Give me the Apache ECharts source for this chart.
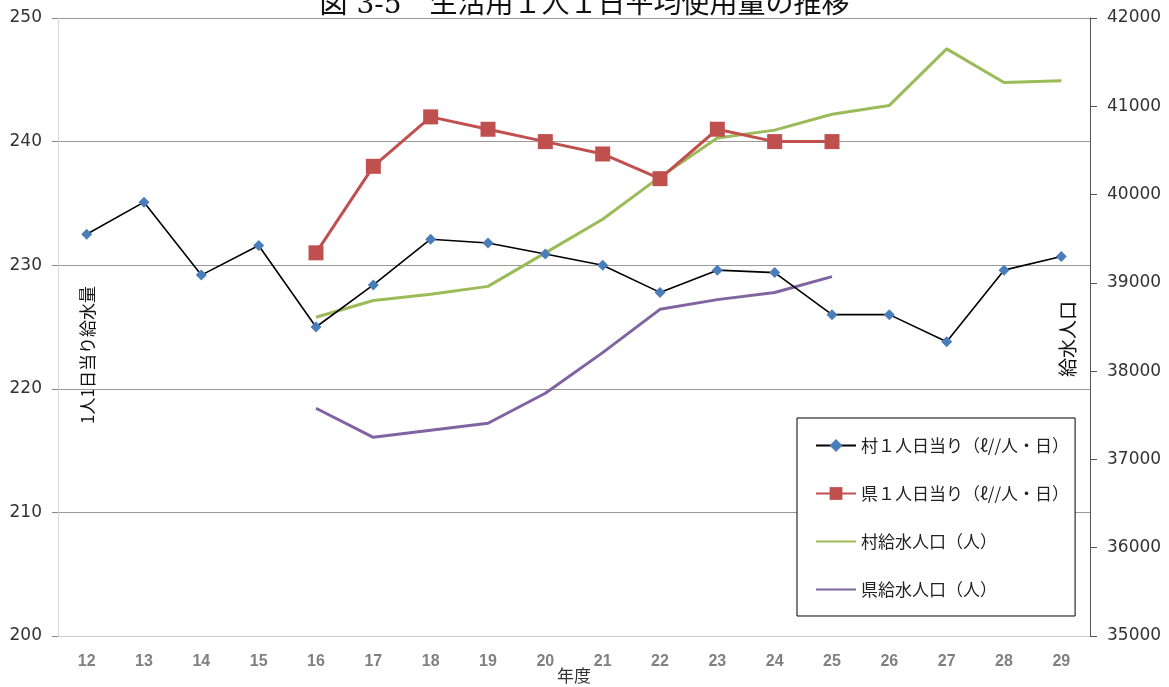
<!DOCTYPE html>
<html>
<head>
<meta charset="utf-8">
<script src="https://cdn.jsdelivr.net/npm/echarts@6/dist/echarts.min.js"></script>
<style>
  html, body { margin: 0; padding: 0; background: #fff; }
  #chart { width: 1169px; height: 687px; }
</style>
</head>
<body>
<div id="chart"></div>
<script>
// 年度 (平成)
const years = ['12','13','14','15','16','17','18','19','20','21','22','23','24','25','26','27','28','29'];

// 村 1人1日当り給水量 (ℓ/人・日)
const villagePerCapita = [232.5, 235.1, 229.2, 231.6, 225.0, 228.4, 232.1, 231.8, 230.9, 230.0, 227.8, 229.6, 229.4, 226.0, 226.0, 223.8, 229.6, 230.7];

// 県 1人1日当り給水量 (ℓ/人・日)
const prefPerCapita = [null, null, null, null, 231, 238, 242, 241, 240, 239, 237, 241, 240, 240, null, null, null, null];

// 村 給水人口 (人)
const villagePopulation = [null, null, null, null, 38610, 38800, 38870, 38960, 39340, 39720, 40200, 40640, 40730, 40910, 41010, 41650, 41270, 41290];

// 県 給水人口 (人, 右軸の目盛に合わせた値)
const prefPopulation = [null, null, null, null, 37580, 37250, 37330, 37410, 37750, 38210, 38700, 38810, 38890, 39070, null, null, null, null];

const seriesNames = ['村１人日当り（ℓ//人・日）', '県１人日当り（ℓ//人・日）', '村給水人口（人）', '県給水人口（人）'];

const chart = echarts.init(document.getElementById('chart'), null, { renderer: 'canvas' });

const cjk = '"Noto Sans CJK JP", "Noto Sans", sans-serif';

chart.setOption({
  animation: false,
  backgroundColor: '#ffffff',
  title: {
    text: '図 3-5　生活用１人１日平均使用量の推移',
    left: 'center',
    top: -13,
    textStyle: {
      fontFamily: '"DejaVu Serif", "Noto Sans CJK JP", serif',
      fontWeight: 'normal',
      fontSize: 28,
      color: '#111'
    }
  },
  grid: { left: 58, right: 79, top: 18, bottom: 51, containLabel: false, outerBoundsMode: 'none' },
  legend: {
    orient: 'vertical',
    left: 797,
    top: 418,
    padding: [19, 6, 18, 18],
    itemGap: 31,
    itemWidth: 40,
    itemHeight: 16,
    backgroundColor: '#ffffff',
    borderColor: '#000000',
    borderWidth: 1,
    textStyle: { fontFamily: cjk, fontSize: 17, color: '#222' },
    data: [
      { name: seriesNames[0] },
      { name: seriesNames[1] },
      { name: seriesNames[2], itemStyle: { opacity: 0 } },
      { name: seriesNames[3], itemStyle: { opacity: 0 } }
    ]
  },
  xAxis: {
    type: 'category',
    data: years,
    boundaryGap: true,
    axisLine: { lineStyle: { color: '#cfcfcf', width: 1 } },
    axisTick: { show: false },
    axisLabel: {
      margin: 18,
      fontFamily: '"Liberation Sans Narrow", "Liberation Sans", sans-serif',
      fontWeight: 'bold',
      fontSize: 16,
      color: '#808080'
    },
    name: '年度',
    nameLocation: 'middle',
    nameGap: 31,
    nameMoveOverlap: false,
    nameTextStyle: { fontFamily: cjk, fontSize: 17, color: '#333' }
  },
  yAxis: [
    {
      type: 'value',
      min: 200,
      max: 250,
      interval: 10,
      axisLine: { show: true, lineStyle: { color: '#d6d6d6' } },
      axisTick: { show: true, length: 6, lineStyle: { color: '#888' } },
      axisLabel: {
        margin: 16,
        fontFamily: '"DejaVu Sans", sans-serif',
        fontSize: 17,
        color: '#333'
      },
      splitLine: { show: true, lineStyle: { color: '#9a9a9a', width: 1 } }
    },
    {
      type: 'value',
      min: 35000,
      max: 42000,
      interval: 1000,
      position: 'right',
      axisLine: { show: true, lineStyle: { color: '#555' } },
      axisTick: { show: true, length: 7, lineStyle: { color: '#555' } },
      axisLabel: {
        margin: 17,
        fontFamily: '"DejaVu Sans", sans-serif',
        fontSize: 17,
        color: '#333',
        formatter: (v) => String(v)
      },
      splitLine: { show: false }
    }
  ],
  graphic: [
    {
      type: 'text',
      x: 88,
      y: 355,
      rotation: Math.PI / 2,
      style: {
        text: '1人1日当り給水量',
        fontFamily: cjk,
        fontSize: 17,
        fill: '#111',
        align: 'center',
        verticalAlign: 'middle'
      }
    },
    {
      type: 'text',
      x: 1068,
      y: 339,
      rotation: Math.PI / 2,
      style: {
        text: '給水人口',
        fontFamily: cjk,
        fontSize: 19,
        fill: '#111',
        align: 'center',
        verticalAlign: 'middle'
      }
    }
  ],
  series: [
    {
      name: seriesNames[0],
      type: 'line',
      yAxisIndex: 0,
      data: villagePerCapita,
      symbol: 'diamond',
      symbolSize: 11,
      lineStyle: { color: '#000000', width: 1.6 },
      itemStyle: { color: '#4a7ebb' },
      z: 4
    },
    {
      name: seriesNames[1],
      type: 'line',
      yAxisIndex: 0,
      data: prefPerCapita,
      symbol: 'rect',
      symbolSize: 15,
      lineStyle: { color: '#c0504d', width: 3 },
      itemStyle: { color: '#c0504d' },
      z: 3
    },
    {
      name: seriesNames[2],
      type: 'line',
      yAxisIndex: 1,
      data: villagePopulation,
      symbol: 'none',
      lineStyle: { color: '#9bbb59', width: 3 },
      itemStyle: { color: '#9bbb59' },
      z: 2
    },
    {
      name: seriesNames[3],
      type: 'line',
      yAxisIndex: 1,
      data: prefPopulation,
      symbol: 'none',
      lineStyle: { color: '#8064a2', width: 3 },
      itemStyle: { color: '#8064a2' },
      z: 2
    }
  ]
});
</script>
</body>
</html>
